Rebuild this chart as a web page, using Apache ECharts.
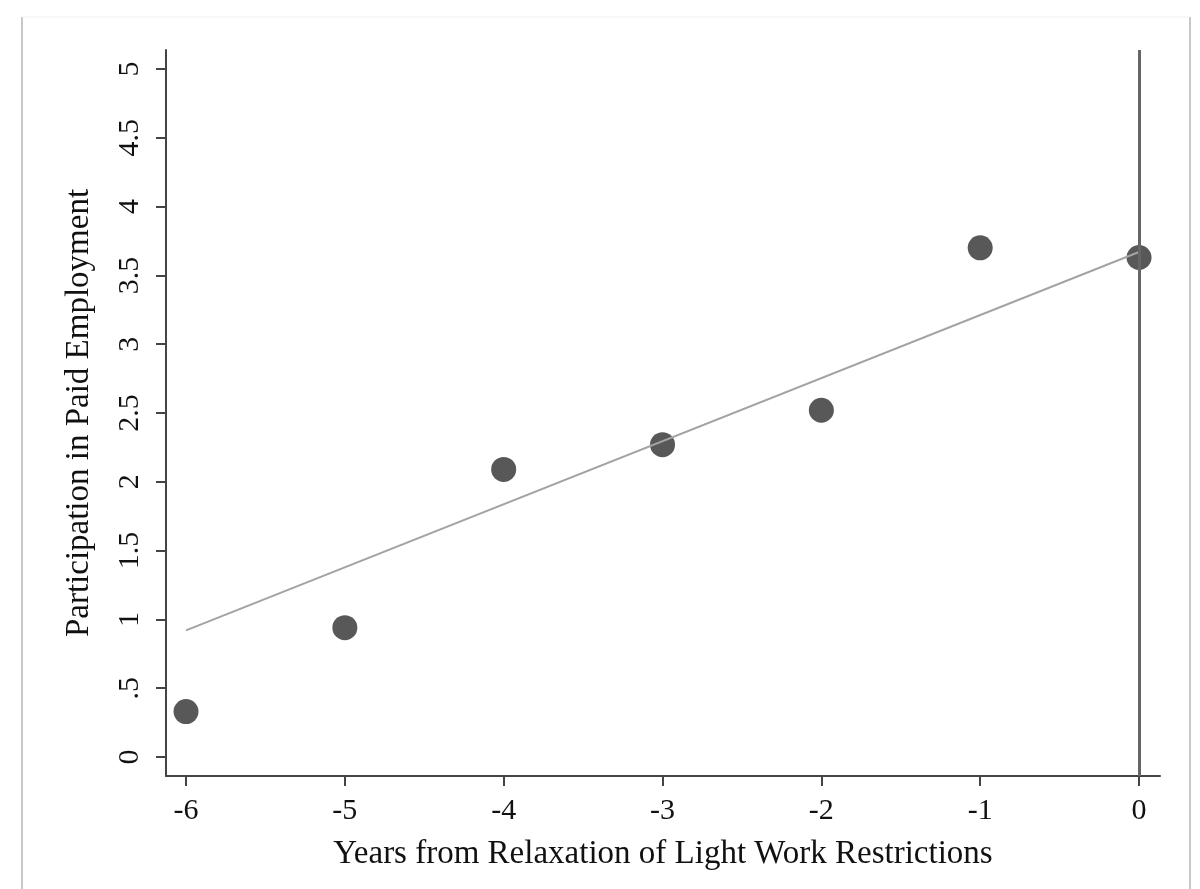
<!DOCTYPE html>
<html>
<head>
<meta charset="utf-8">
<script src="https://cdn.jsdelivr.net/npm/echarts@6/dist/echarts.min.js"></script>
<style>
html,body{margin:0;padding:0;background:#fff;}
#chart{width:1200px;height:889px;}
</style>
</head>
<body>
<div id="chart"></div>
<script>
var years = [-6, -5, -4, -3, -2, -1, 0];
var participation = [0.33, 0.94, 2.09, 2.27, 2.52, 3.70, 3.63];
var fitX = [-6, 0];
var fitY = [0.92, 3.67];
var xTicks = [-6, -5, -4, -3, -2, -1, 0];
var yTicks = [0, 0.5, 1, 1.5, 2, 2.5, 3, 3.5, 4, 4.5, 5];
var yTickLabels = ['0', '.5', '1', '1.5', '2', '2.5', '3', '3.5', '4', '4.5', '5'];
var xTitle = 'Years from Relaxation of Light Work Restrictions';
var yTitle = 'Participation in Paid Employment';

var FONT = '"Liberation Serif", "DejaVu Serif", serif';
var chart = echarts.init(document.getElementById('chart'), null, {renderer: 'canvas'});
var scatterData = years.map(function (x, i) { return [x, participation[i]]; });
var fitData = fitX.map(function (x, i) { return [x, fitY[i]]; });

chart.setOption({
  backgroundColor: '#ffffff',
  animation: false,
  graphic: [
    {type: 'line', shape: {x1: 22, y1: 17, x2: 22, y2: 889}, style: {stroke: '#c8c8c8', lineWidth: 2}},
    {type: 'line', shape: {x1: 1190, y1: 17, x2: 1190, y2: 889}, style: {stroke: '#c8c8c8', lineWidth: 2}},
    {type: 'line', shape: {x1: 22, y1: 17, x2: 1190, y2: 17}, style: {stroke: '#f0f0f0', lineWidth: 1}}
  ],
  grid: {left: 166, right: 40, top: 50, bottom: 113, containLabel: false},
  xAxis: {
    type: 'value',
    min: -6.126,
    max: 0.132,
    splitLine: {show: false},
    axisLine: {show: true, onZero: false, lineStyle: {color: '#444', width: 2}},
    axisTick: {show: true, length: 10, customValues: xTicks, lineStyle: {color: '#444', width: 2}},
    axisLabel: {
      show: true, customValues: xTicks, margin: 20,
      fontFamily: FONT, fontSize: 30, color: '#111',
      formatter: function (v) { return String(v); }
    },
    name: xTitle,
    nameLocation: 'middle',
    nameGap: 62,
    nameTextStyle: {fontFamily: FONT, fontSize: 33, color: '#111'}
  },
  yAxis: {
    type: 'value',
    min: -0.138,
    max: 5.138,
    splitLine: {show: false},
    axisLine: {show: true, onZero: false, lineStyle: {color: '#444', width: 2}},
    axisTick: {show: true, length: 10, customValues: yTicks, lineStyle: {color: '#444', width: 2}},
    axisLabel: {
      show: true, customValues: yTicks, rotate: 90, margin: 21,
      fontFamily: FONT, fontSize: 30, color: '#111',
      formatter: function (v) {
        var i = yTicks.indexOf(Math.round(v * 10) / 10);
        return i >= 0 ? yTickLabels[i] : '';
      }
    },
    name: yTitle,
    nameLocation: 'middle',
    nameGap: 70,
    nameTextStyle: {fontFamily: FONT, fontSize: 33, color: '#111'}
  },
  series: [
    {
      type: 'scatter',
      data: scatterData,
      symbol: 'circle',
      symbolSize: 25,
      itemStyle: {color: '#585858', opacity: 1},
      z: 2,
      markLine: {
        silent: true,
        symbol: ['none', 'none'],
        label: {show: false},
        lineStyle: {color: '#666', width: 3, type: 'solid'},
        data: [{xAxis: 0}]
      }
    },
    {
      type: 'line',
      data: fitData,
      showSymbol: false,
      symbol: 'none',
      lineStyle: {color: '#a3a3a3', width: 2},
      z: 3
    }
  ]
});
</script>
</body>
</html>
